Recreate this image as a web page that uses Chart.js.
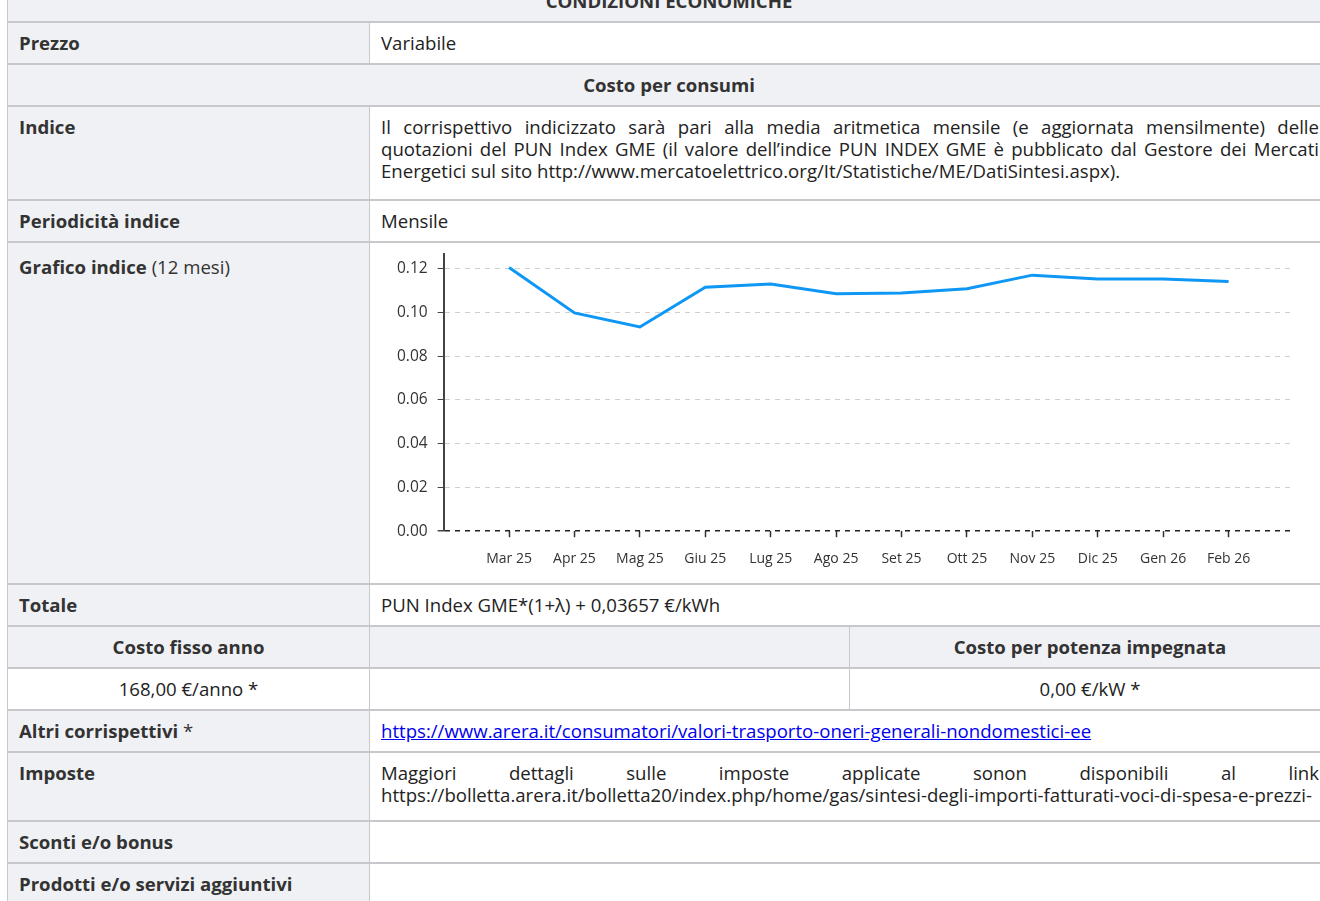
<!DOCTYPE html>
<html lang="it">
<head>
<meta charset="utf-8">
<title>Condizioni economiche</title>
<script src="https://cdn.jsdelivr.net/npm/chart.js@4.4.1/dist/chart.umd.min.js"></script>
<style>
    html, body { margin: 0; padding: 0; background: #fff; overflow: hidden; }
    body { font-family: 'Open Sans', sans-serif; font-size: 18.6px; line-height: 22px; color: #222; }
    table.cond { position: absolute; left: 7px; top: -21px; width: 1323px; border-collapse: collapse; table-layout: fixed; }
    .cond td { border-style: solid; border-color: #c8c8cc; border-width: 2px 1px; padding: 9px 11px; vertical-align: top; }
    .cond td.lbl { background: #f0f1f4; font-weight: 700; color: #333; }
    .cond td.head { background: #f0f1f4; font-weight: 700; color: #333; text-align: center; }
    .cond td.center { text-align: center; }
    .cond td.just { text-align: justify; }
    .cond .normal { font-weight: 400; }
    .cond a { color: #0000ee; }
    .chart-cell { position: relative; height: 322px; }
    .chart-box { position: absolute; left: 0; top: -17px; width: 938px; height: 345px; }
</style>
</head>
<body>
<table class="cond">
    <colgroup><col style="width:362px"><col style="width:480px"><col style="width:481px"></colgroup>
    <tr><td class="head" colspan="3">CONDIZIONI ECONOMICHE</td></tr>
    <tr><td class="lbl">Prezzo</td><td colspan="2">Variabile</td></tr>
    <tr><td class="head" colspan="3">Costo per consumi</td></tr>
    <tr>
        <td class="lbl">Indice</td>
        <td class="just" colspan="2" style="padding-bottom:17px">Il corrispettivo indicizzato sarà pari alla media aritmetica mensile (e aggiornata mensilmente) delle quotazioni del PUN Index GME (il valore dell’indice PUN INDEX GME è pubblicato dal Gestore dei Mercati Energetici sul sito http://www.mercatoelettrico.org/It/Statistiche/ME/DatiSintesi.aspx).</td>
    </tr>
    <tr><td class="lbl">Periodicità indice</td><td colspan="2">Mensile</td></tr>
    <tr>
        <td class="lbl" style="padding-top:13px">Grafico indice <span class="normal">(12 mesi)</span></td>
        <td colspan="2"><div class="chart-cell"><div class="chart-box"><canvas id="indexChart"></canvas></div></div></td>
    </tr>
    <tr><td class="lbl">Totale</td><td colspan="2">PUN Index GME*(1+λ) + 0,03657 €/kWh</td></tr>
    <tr><td class="head">Costo fisso anno</td><td class="head"></td><td class="head">Costo per potenza impegnata</td></tr>
    <tr><td class="center">168,00 €/anno *</td><td></td><td class="center">0,00 €/kW *</td></tr>
    <tr>
        <td class="lbl">Altri corrispettivi <span class="normal">*</span></td>
        <td colspan="2"><a href="#">https://www.arera.it/consumatori/valori-trasporto-oneri-generali-nondomestici-ee</a></td>
    </tr>
    <tr>
        <td class="lbl">Imposte</td>
        <td class="just" colspan="2" style="padding-bottom:14px">Maggiori dettagli sulle imposte applicate sonon disponibili al link https://bolletta.arera.it/bolletta20/index.php/home/gas/sintesi-degli-importi-fatturati-voci-di-spesa-e-prezzi-</td>
    </tr>
    <tr><td class="lbl">Sconti e/o bonus</td><td colspan="2"></td></tr>
    <tr><td class="lbl">Prodotti e/o servizi aggiuntivi</td><td colspan="2">&nbsp;</td></tr>
</table>

<script>
// PUN Index GME, media mensile (€/kWh)
const months = ['Mar 25', 'Apr 25', 'Mag 25', 'Giu 25', 'Lug 25', 'Ago 25', 'Set 25', 'Ott 25', 'Nov 25', 'Dic 25', 'Gen 26', 'Feb 26'];
const punValues = [0.1206, 0.0998, 0.0934, 0.1116, 0.1130, 0.1086, 0.1089, 0.1109, 0.1171, 0.1153, 0.1153, 0.1142];
const yTicks = [0, 0.02, 0.04, 0.06, 0.08, 0.10, 0.12];

Chart.defaults.font.family = "'Open Sans', sans-serif";
Chart.defaults.color = '#333';

function renderIndexChart() {
    const ctx = document.getElementById('indexChart').getContext('2d');
    new Chart(ctx, {
        type: 'line',
        data: {
            datasets: [{
                label: 'PUN Index GME',
                data: punValues.map((v, i) => ({ x: i, y: v })),
                borderColor: '#0f97f5',
                borderWidth: 3,
                pointRadius: 0,
                tension: 0,
                fill: false
            }]
        },
        options: {
            responsive: true,
            maintainAspectRatio: false,
            animation: false,
            layout: { padding: { left: 6, right: 25, top: 0, bottom: 0 } },
            plugins: {
                legend: { display: false },
                tooltip: { enabled: false }
            },
            scales: {
                x: {
                    type: 'linear',
                    min: -1,
                    max: months.length,
                    afterBuildTicks: scale => {
                        scale.ticks = months.map((m, i) => ({ value: i }));
                    },
                    ticks: {
                        autoSkip: false,
                        maxRotation: 0,
                        padding: 13,
                        font: { size: 14 },
                        callback: v => months[v]
                    },
                    grid: {
                        drawOnChartArea: false,
                        tickLength: 6,
                        tickColor: '#333',
                        tickWidth: 1.5
                    },
                    border: { display: false }
                },
                y: {
                    min: 0,
                    max: Math.max(...punValues) * 1.05,
                    afterBuildTicks: scale => {
                        scale.ticks = yTicks.map(v => ({ value: v }));
                    },
                    ticks: {
                        padding: 10,
                        font: { size: 15.5 },
                        callback: v => v.toFixed(2)
                    },
                    grid: {
                        color: c => (c.tick && c.tick.value === 0) ? '#222' : '#cfcfcf',
                        lineWidth: c => (c.tick && c.tick.value === 0) ? 1.5 : 1,
                        tickLength: 6,
                        tickColor: '#444'
                    },
                    border: { display: true, color: '#444', width: 2, dash: [5, 5] }
                }
            }
        }
    });
}

renderIndexChart();
</script>
</body>
</html>
